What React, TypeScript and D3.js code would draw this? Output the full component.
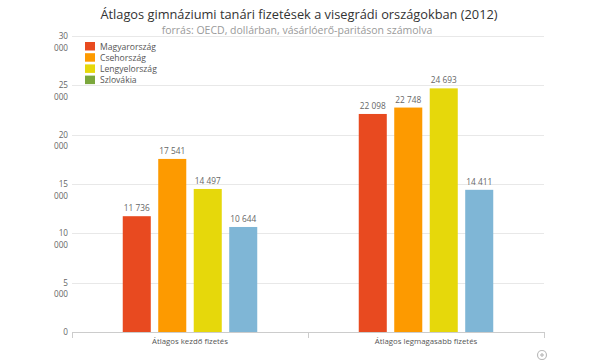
import * as d3 from "d3";
import React, { useEffect, useRef } from "react";

const categories = ["Átlagos kezdő fizetés", "Átlagos legmagasabb fizetés"];
const countries = ["Magyarország", "Csehország", "Lengyelország", "Szlovákia"];
const kezdo = [11736, 17541, 14497, 10644];
const legmagasabb = [22098, 22748, 24693, 14411];
const yTicks = [0, 5000, 10000, 15000, 20000, 25000, 30000];

const barColors = ["#e84a20", "#fd9a00", "#e6d80b", "#7fb6d6"];
const legendColors = ["#e84a20", "#fd9a00", "#e6d80b", "#7ba73c"];

const App = () => {
  const ref = useRef<SVGSVGElement>(null);

  useEffect(() => {
    const svg = d3.select(ref.current);
    svg.selectAll("*").remove();

    const width = 600;
    const height = 360;
    const margin = { top: 36, right: 56, bottom: 28, left: 72 };
    const font = "'Open Sans', 'DejaVu Sans', sans-serif";
    const fmt = d3.formatLocale({ decimal: ",", thousands: " ", grouping: [3], currency: ["", ""] }).format(",d");

    const series = [kezdo, legmagasabb];
    const data = categories.flatMap((c, ci) =>
      countries.map((name, i) => ({ cat: c, name, i, value: series[ci][i] }))
    );

    const x = d3.scaleBand().domain(categories).range([margin.left, width - margin.right]);
    const xInner = d3.scaleBand().domain(countries).range([0, x.bandwidth()]).paddingInner(0.21).paddingOuter(1.43);
    const y = d3.scaleLinear().domain([0, 30000]).range([height - margin.bottom, margin.top]);

    svg.append("rect").attr("width", width).attr("height", height).attr("fill", "#fff");

    // gridlines
    svg.append("g")
      .selectAll("line")
      .data(yTicks.filter((d) => d > 0))
      .join("line")
      .attr("x1", margin.left)
      .attr("x2", width - margin.right)
      .attr("y1", (d) => Math.round(y(d)) + 0.5)
      .attr("y2", (d) => Math.round(y(d)) + 0.5)
      .attr("stroke", "#e8e8e8");

    // y labels, thousands wrapped to a second line
    const yl = svg.append("g").attr("font-family", font).attr("font-size", 8.2).attr("fill", "#666").attr("text-anchor", "end");
    yTicks.forEach((t) => {
      fmt(t).split(" ").forEach((part, k) => {
        yl.append("text").attr("x", 68).attr("y", y(t) + 3 + k * 11.5).text(part);
      });
    });

    // x axis
    const ax = svg.append("g").attr("stroke", "#ccc");
    ax.append("line")
      .attr("x1", margin.left).attr("x2", width - margin.right)
      .attr("y1", Math.round(y(0)) + 0.5).attr("y2", Math.round(y(0)) + 0.5);
    [...categories.map((c) => x(c)!), width - margin.right].forEach((p) => {
      ax.append("line").attr("x1", Math.round(p) + 0.5).attr("x2", Math.round(p) + 0.5).attr("y1", y(0)).attr("y2", y(0) + 6);
    });

    svg.append("g")
      .selectAll("text")
      .data(categories)
      .join("text")
      .attr("x", (d) => x(d)! + x.bandwidth() / 2)
      .attr("y", y(0) + 12)
      .attr("text-anchor", "middle")
      .attr("font-family", font)
      .attr("font-size", 7.8)
      .attr("fill", "#555")
      .text((d) => d);

    // bars
    svg.append("g")
      .selectAll("rect")
      .data(data)
      .join("rect")
      .attr("x", (d) => x(d.cat)! + xInner(d.name)!)
      .attr("y", (d) => y(d.value))
      .attr("width", xInner.bandwidth())
      .attr("height", (d) => y(0) - y(d.value))
      .attr("fill", (d) => barColors[d.i]);

    svg.append("g")
      .selectAll("text")
      .data(data)
      .join("text")
      .attr("x", (d) => x(d.cat)! + xInner(d.name)! + xInner.bandwidth() / 2)
      .attr("y", (d) => y(d.value) - 5)
      .attr("text-anchor", "middle")
      .attr("font-family", font)
      .attr("font-size", 8.3)
      .attr("fill", "#666")
      .text((d) => fmt(d.value));

    // title
    svg.append("text")
      .attr("x", 299).attr("y", 19)
      .attr("text-anchor", "middle")
      .attr("font-family", font)
      .attr("font-size", 12.8)
      .attr("fill", "#333")
      .text("Átlagos gimnáziumi tanári fizetések a visegrádi országokban (2012)");

    svg.append("text")
      .attr("x", 297).attr("y", 34)
      .attr("text-anchor", "middle")
      .attr("font-family", font)
      .attr("font-size", 10.5)
      .attr("fill", "#9a9a9a")
      .text("forrás: OECD, dollárban, vásárlóerő-paritáson számolva");

    // legend
    const lg = svg.append("g");
    countries.forEach((c, i) => {
      lg.append("rect").attr("x", 85).attr("y", 42 + i * 11.2).attr("width", 10).attr("height", 8.5).attr("fill", legendColors[i]);
      lg.append("text")
        .attr("x", 100).attr("y", 49.5 + i * 11.2)
        .attr("font-family", font)
        .attr("font-size", 8.6)
        .attr("fill", "#555")
        .text(c);
    });

    // zoom icon
    const zi = svg.append("g").attr("stroke", "#bbb").attr("fill", "none").attr("stroke-width", 1.2);
    zi.append("circle").attr("cx", 542).attr("cy", 355).attr("r", 4.5);
    zi.append("line").attr("x1", 540).attr("x2", 544).attr("y1", 355).attr("y2", 355);
    zi.append("line").attr("x1", 542).attr("x2", 542).attr("y1", 353).attr("y2", 357);
  }, []);

  return (
    <svg ref={ref} width={600} height={360} style={{ position: "absolute", left: 0, top: 0 }} />
  );
};

export default App;
